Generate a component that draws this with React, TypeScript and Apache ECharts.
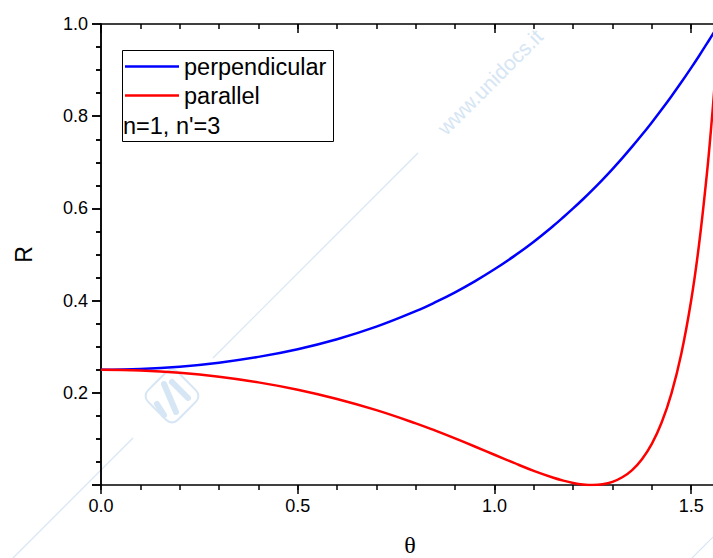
import React, { useEffect, useRef } from "react";
import * as echarts from "echarts";

// incidence angle θ (rad)
const theta = [0, 0.1, 0.2, 0.3, 0.4, 0.5, 0.6, 0.7, 0.8, 0.85, 0.9, 0.95, 1.0, 1.05, 1.1, 1.15, 1.175, 1.2, 1.225, 1.25, 1.275, 1.3, 1.325, 1.35, 1.375, 1.4, 1.425, 1.45, 1.475, 1.5, 1.52, 1.54, 1.55, 1.56, 1.5708];
// reflectance, perpendicular polarisation
const perpendicular = [0.25, 0.2517, 0.2567, 0.2654, 0.2779, 0.2946, 0.3162, 0.3434, 0.377, 0.3965, 0.418, 0.4418, 0.4679, 0.4965, 0.5279, 0.5623, 0.5807, 0.5999, 0.6199, 0.6408, 0.6626, 0.6854, 0.7091, 0.7339, 0.7596, 0.7865, 0.8144, 0.8434, 0.8735, 0.9048, 0.9307, 0.9574, 0.971, 0.9848, 1.0];
// reflectance, parallel polarisation
const parallel = [0.25, 0.2483, 0.2433, 0.2348, 0.2226, 0.2067, 0.1866, 0.1623, 0.1337, 0.1178, 0.101, 0.0835, 0.0656, 0.0478, 0.0307, 0.0157, 0.0095, 0.0045, 0.0012, 0.0, 0.0016, 0.0068, 0.0167, 0.0324, 0.0559, 0.0893, 0.1356, 0.1989, 0.2847, 0.4002, 0.5211, 0.6749, 0.7672, 0.8716, 1.0];

const seriesNames = ["perpendicular", "parallel"];
const note = "n=1, n'=3";
const xTitle = "θ";
const yTitle = "R";

const SANS = "Arial, 'Liberation Sans', Helvetica, sans-serif";
const SERIF = "'Times New Roman', 'Liberation Serif', 'DejaVu Serif', serif";
const WM = "#d6e6f4";

export default function App() {
  const ref = useRef<HTMLDivElement>(null);
  useEffect(() => {
    if (!ref.current) return;
    const chart = echarts.init(ref.current, undefined, { renderer: "svg" });
    const axisLine = { show: true, lineStyle: { color: "#000", width: 1.5 } };
    const xBase = { type: "value", min: 0, max: 1.5708, splitLine: { show: false }, gridIndex: 0 };
    const option: any = {
      animation: false,
      backgroundColor: "#fff",
      grid: { left: 101, top: 24, width: 618, height: 461, containLabel: false, outerBoundsMode: "none" },
      xAxis: [
        {
          ...xBase,
          position: "bottom",
          interval: 0.5,
          axisLine,
          axisTick: { show: true, inside: false, length: 9, lineStyle: { color: "#000", width: 1.5 } },
          axisLabel: {
            show: true, fontSize: 18, color: "#000", fontFamily: SANS, margin: 12,
            showMaxLabel: false,
            formatter: (v: number) => v.toFixed(1),
          },
          name: xTitle,
          nameLocation: "middle",
          nameGap: 48,
          nameTextStyle: { fontSize: 24, fontFamily: SERIF, color: "#000" },
        },
        {
          ...xBase,
          position: "bottom",
          interval: 0.1,
          axisLine: { show: false },
          axisTick: { show: true, inside: false, length: 5, lineStyle: { color: "#000", width: 1.5 } },
          axisLabel: { show: false },
        },
        {
          ...xBase,
          position: "top",
          interval: 0.5,
          axisLine,
          axisTick: { show: true, inside: true, length: 9, lineStyle: { color: "#000", width: 1.5 } },
          axisLabel: { show: false },
        },
        {
          ...xBase,
          position: "top",
          interval: 0.1,
          axisLine: { show: false },
          axisTick: { show: true, inside: true, length: 5, lineStyle: { color: "#000", width: 1.5 } },
          axisLabel: { show: false },
        },
      ],
      yAxis: [
        {
          type: "value",
          position: "left",
          min: 0,
          max: 1,
          interval: 0.2,
          splitLine: { show: false },
          axisLine,
          axisTick: { show: true, inside: false, length: 9, lineStyle: { color: "#000", width: 1.5 } },
          minorTick: { show: true, splitNumber: 4, length: 5, lineStyle: { color: "#000", width: 1.5 } },
          minorSplitLine: { show: false },
          axisLabel: {
            show: true, fontSize: 18, color: "#000", fontFamily: SANS, margin: 13,
            showMinLabel: false,
            formatter: (v: number) => v.toFixed(1),
          },
          name: yTitle,
          nameLocation: "middle",
          nameRotate: 90,
          nameGap: 66,
          nameTextStyle: { fontSize: 23, fontFamily: SANS, color: "#000" },
        },
        {
          type: "value",
          position: "right",
          min: 0,
          max: 1,
          interval: 0.2,
          splitLine: { show: false },
          axisLine,
          axisTick: { show: true, inside: true, length: 9, lineStyle: { color: "#000", width: 1.5 } },
          minorTick: { show: true, splitNumber: 4, length: 5, lineStyle: { color: "#000", width: 1.5 } },
          axisLabel: { show: false },
        },
      ],
      legend: {
        orient: "vertical",
        left: 125,
        top: 52,
        padding: 0,
        itemGap: 0,
        itemWidth: 54,
        itemHeight: 2.5,
        icon: "rect",
        selectedMode: false,
        data: seriesNames,
        textStyle: { fontSize: 23.5, fontFamily: SANS, color: "#000", lineHeight: 29 },
        z: 10,
      },
      graphic: [
        { type: "line", z: 0, shape: { x1: 13, y1: 558, x2: 133, y2: 438 }, style: { stroke: WM, lineWidth: 1.2 } },
        { type: "line", z: 0, shape: { x1: 213, y1: 358, x2: 418, y2: 153 }, style: { stroke: WM, lineWidth: 1.2 } },
        { type: "line", z: 0, shape: { x1: 690, y1: 560, x2: 715, y2: 535 }, style: { stroke: WM, lineWidth: 1.2 } },
        {
          type: "rect", z: 0, x: 172, y: 396, rotation: Math.PI / 4,
          shape: { x: -21, y: -21, width: 42, height: 42, r: 8 },
          style: { fill: "none", stroke: WM, lineWidth: 2 },
        },
        { type: "line", z: 0, shape: { x1: 157, y1: 404, x2: 164, y2: 415 }, style: { stroke: WM, lineWidth: 6, lineCap: "round" } },
        { type: "line", z: 0, shape: { x1: 164, y1: 384, x2: 176, y2: 412 }, style: { stroke: WM, lineWidth: 6, lineCap: "round" } },
        { type: "line", z: 0, shape: { x1: 172, y1: 382, x2: 188, y2: 398 }, style: { stroke: WM, lineWidth: 6, lineCap: "round" } },
        {
          type: "text", z: 0, x: 490, y: 82, rotation: Math.PI / 4,
          style: { text: "www.unidocs.it", fontSize: 21, fontFamily: SANS, fill: WM, align: "center", verticalAlign: "middle" },
        },
        {
          type: "rect", z: 5,
          shape: { x: 122.5, y: 50.5, width: 211, height: 91 },
          style: { fill: "#fff", stroke: "#000", lineWidth: 1 },
        },
        {
          type: "text", z: 10, x: 123, y: 126,
          style: { text: note, fontSize: 23.5, fontFamily: SANS, fill: "#000", verticalAlign: "middle" },
        },
      ],
      series: [
        {
          name: seriesNames[0],
          type: "line",
          xAxisIndex: 0,
          yAxisIndex: 0,
          data: theta.map((t, i) => [t, perpendicular[i]]),
          showSymbol: false,
          smooth: 0.4,
          lineStyle: { color: "#0000ff", width: 2.5 },
          itemStyle: { color: "#0000ff" },
          z: 3,
        },
        {
          name: seriesNames[1],
          type: "line",
          xAxisIndex: 0,
          yAxisIndex: 0,
          data: theta.map((t, i) => [t, parallel[i]]),
          showSymbol: false,
          smooth: 0.4,
          lineStyle: { color: "#ff0000", width: 2.5 },
          itemStyle: { color: "#ff0000" },
          z: 3,
        },
      ],
    };
    chart.setOption(option);
    return () => chart.dispose();
  }, []);
  return <div ref={ref} style={{ width: 713, height: 558, position: "absolute", left: 0, top: 0 }} />;
}
